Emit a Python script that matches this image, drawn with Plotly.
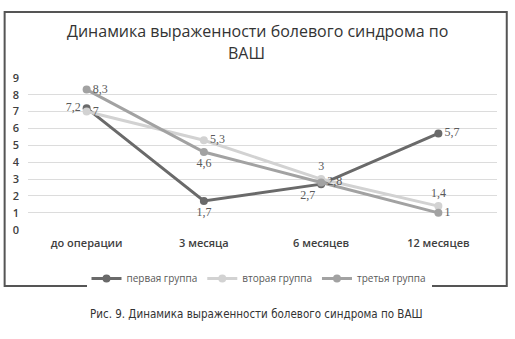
import plotly.graph_objects as go

# Периоды наблюдения и оценки боли по ВАШ
categories = ["до операции", "3 месяца", "6 месяцев", "12 месяцев"]
group1 = [7.2, 1.7, 2.7, 5.7]
group2 = [7.0, 5.3, 3.0, 1.4]
group3 = [8.3, 4.6, 2.8, 1.0]
names = ["первая группа", "вторая группа", "третья группа"]
y_ticks = list(range(0, 10))

colors = ["#6a6a6a", "#d2d2d2", "#a2a2a2"]
label_pos = [
    ["middle left", "bottom center", "bottom left", "middle right"],
    ["middle right", "middle right", "top center", "top center"],
    ["middle right", "bottom center", "middle right", "middle right"],
]

W, H = 515, 339


def fmt(v):
    return f"{v:g}".replace(".", ",")


# pixel -> paper helpers (paper spans the whole page, margins are zero)
def px(x):
    return x / W


def py(y):
    return 1 - y / H


fig = go.Figure()

for vals, name, col, pos in zip([group1, group2, group3], names, colors, label_pos):
    fig.add_trace(go.Scatter(
        x=categories, y=vals, name=name,
        mode="lines+markers+text",
        line=dict(color=col, width=3),
        marker=dict(color=col, size=8),
        text=[fmt(v) for v in vals],
        textposition=pos,
        textfont=dict(family="Liberation Serif", size=12, color="#5a5a5a"),
        cliponaxis=False,
    ))

tick_font = dict(family="Open Sans", size=11, color="#404040", weight=600)

fig.update_layout(
    width=W, height=H,
    margin=dict(l=0, r=0, t=0, b=0, pad=0),
    paper_bgcolor="white", plot_bgcolor="white",
    showlegend=True,
    legend=dict(orientation="h", x=px(259), xanchor="center", y=py(283), yanchor="middle",
                font=dict(family="Open Sans", size=10, color="#595959"),
                itemwidth=30),
    xaxis=dict(type="category", range=[-0.5, 3.5], domain=[px(28), px(497)],
               showgrid=False, zeroline=False, showline=False, ticks="",
               ticklabelstandoff=5, tickfont=tick_font),
    yaxis=dict(range=[0, 9], tickvals=y_ticks, domain=[py(232), py(73)],
               showgrid=True, gridcolor="#dcdcdc", gridwidth=1, zeroline=False,
               showline=False, ticks="", ticklabelstandoff=8, tickfont=tick_font),
    # outer chart frame
    shapes=[dict(type="rect", xref="paper", yref="paper",
                 x0=0.009, x1=0.984, y0=0.142, y1=0.988,
                 line=dict(color="#555555", width=2))],
    annotations=[
        dict(text="Динамика выраженности болевого синдрома по",
             xref="paper", yref="paper", x=px(257), y=py(24),
             xanchor="center", yanchor="middle", showarrow=False,
             font=dict(family="Open Sans", size=16, color="#333333", weight=500)),
        dict(text="ВАШ",
             xref="paper", yref="paper", x=px(246), y=py(47),
             xanchor="center", yanchor="middle", showarrow=False,
             font=dict(family="Open Sans", size=16, color="#333333", weight=500)),
        dict(text="Рис. 9. Динамика выраженности болевого синдрома по ВАШ",
             xref="paper", yref="paper", x=px(256), y=py(320),
             xanchor="center", yanchor="middle", showarrow=False,
             font=dict(family="DejaVu Sans Condensed", size=11.5, color="#333333")),
    ],
)

fig.write_html("out.html")
